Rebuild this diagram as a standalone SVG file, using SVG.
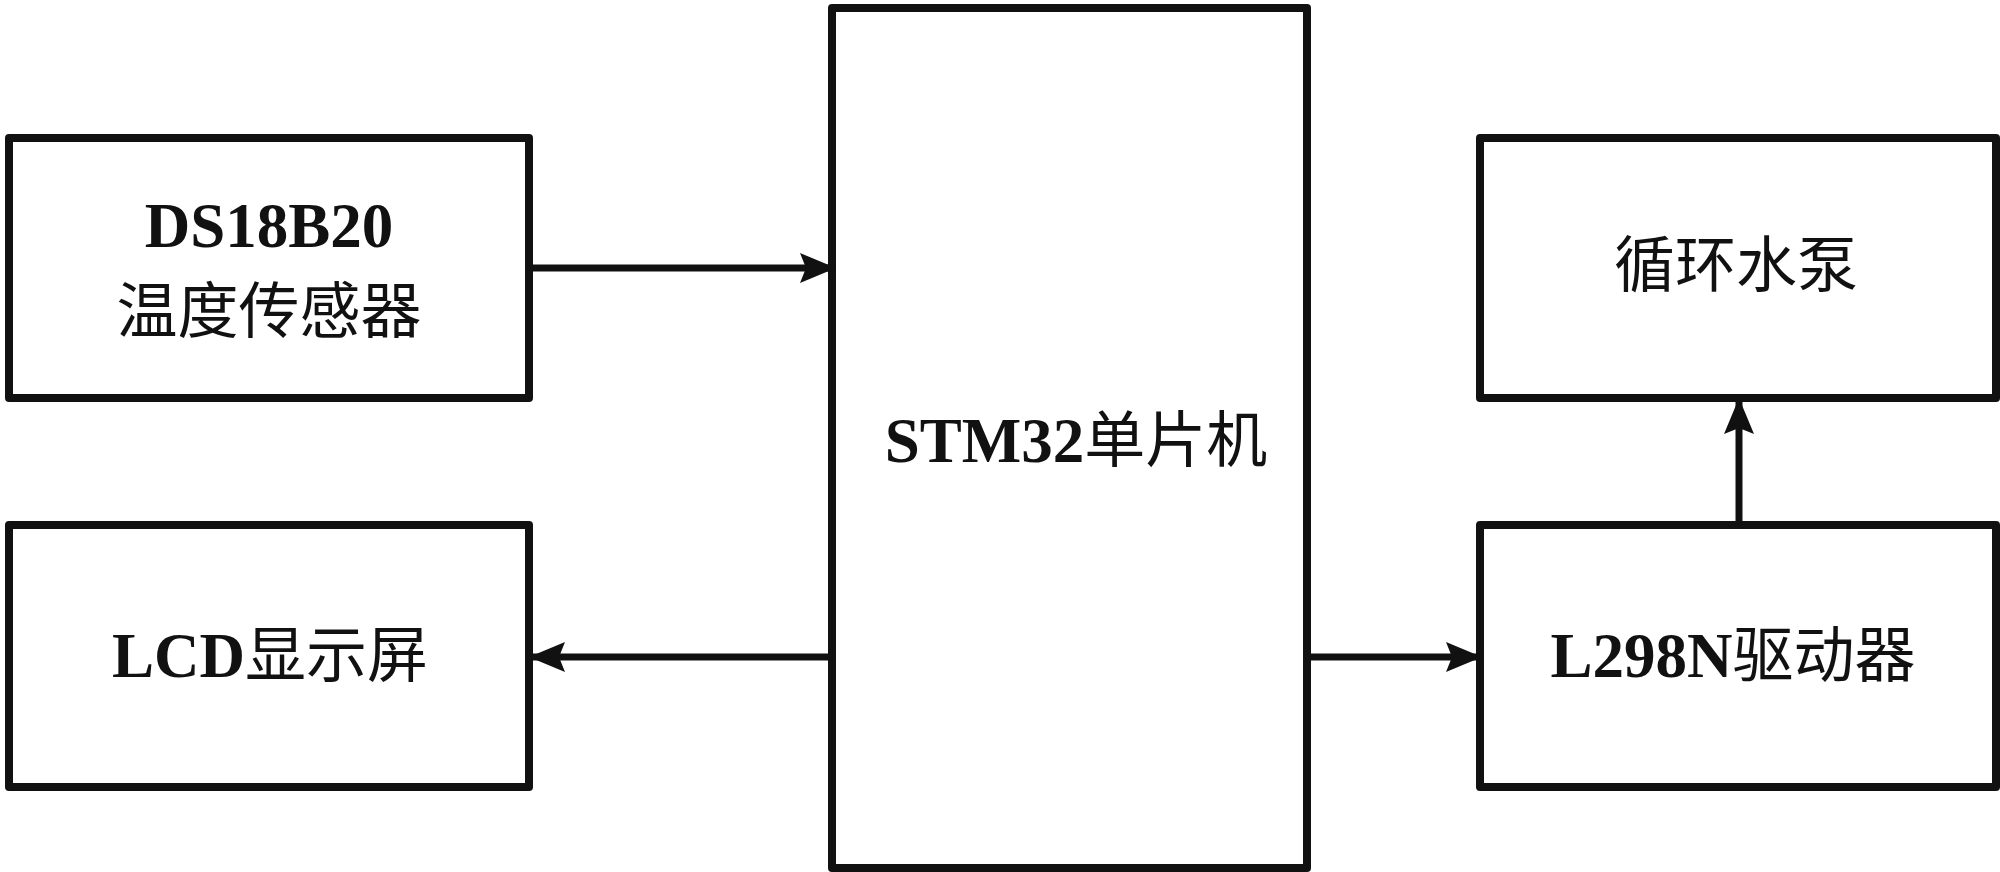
<svg xmlns="http://www.w3.org/2000/svg" width="2000" height="872" viewBox="0 0 2000 872">
<style>
.box{fill:#fff;stroke:#111;stroke-width:8;stroke-linejoin:round}
.lat{font-family:"Liberation Serif","Noto Sans CJK SC",serif;font-weight:bold;font-size:63px;fill:#111}
.cjk{font-family:"Noto Sans CJK SC",sans-serif;font-weight:normal;font-size:61px}
.con{stroke:#111;stroke-width:7;fill:none}
</style>
<defs>
<marker id="ah" markerUnits="userSpaceOnUse" markerWidth="38" markerHeight="34" refX="36" refY="17" orient="auto">
<path d="M0,2 L36,17 L0,32 L6,17 z" fill="#111"/>
</marker>
</defs>
<rect width="2000" height="872" fill="#fff"/>
<g id="n-ds18b20">
<rect class="box" x="9" y="138" width="520" height="260"/>
<text class="lat" x="269" y="247" text-anchor="middle">DS18B20</text>
<text class="lat" x="269" y="333" text-anchor="middle"><tspan class="cjk">温度传感器</tspan></text>
</g>
<g id="n-lcd">
<rect class="box" x="9" y="525" width="520" height="262"/>
<text class="lat" x="270" y="677" text-anchor="middle">LCD<tspan class="cjk">显示屏</tspan></text>
</g>
<g id="n-stm32">
<rect class="box" x="832" y="8" width="475" height="860"/>
<text class="lat" x="1076" y="462" text-anchor="middle">STM32<tspan class="cjk">单片机</tspan></text>
</g>
<g id="n-pump">
<rect class="box" x="1480" y="138" width="516" height="260"/>
<text class="lat" x="1736" y="287" text-anchor="middle"><tspan class="cjk">循环水泵</tspan></text>
</g>
<g id="n-l298n">
<rect class="box" x="1480" y="525" width="516" height="262"/>
<text class="lat" x="1733" y="677" text-anchor="middle">L298N<tspan class="cjk">驱动器</tspan></text>
</g>
<g id="connectors">
<line class="con" x1="533" y1="268" x2="836" y2="268" marker-end="url(#ah)"/>
<line class="con" x1="828" y1="657" x2="529" y2="657" marker-end="url(#ah)"/>
<line class="con" x1="1311" y1="657" x2="1482" y2="657" marker-end="url(#ah)"/>
<line class="con" x1="1739" y1="521" x2="1739" y2="398" marker-end="url(#ah)"/>
</g>
</svg>
